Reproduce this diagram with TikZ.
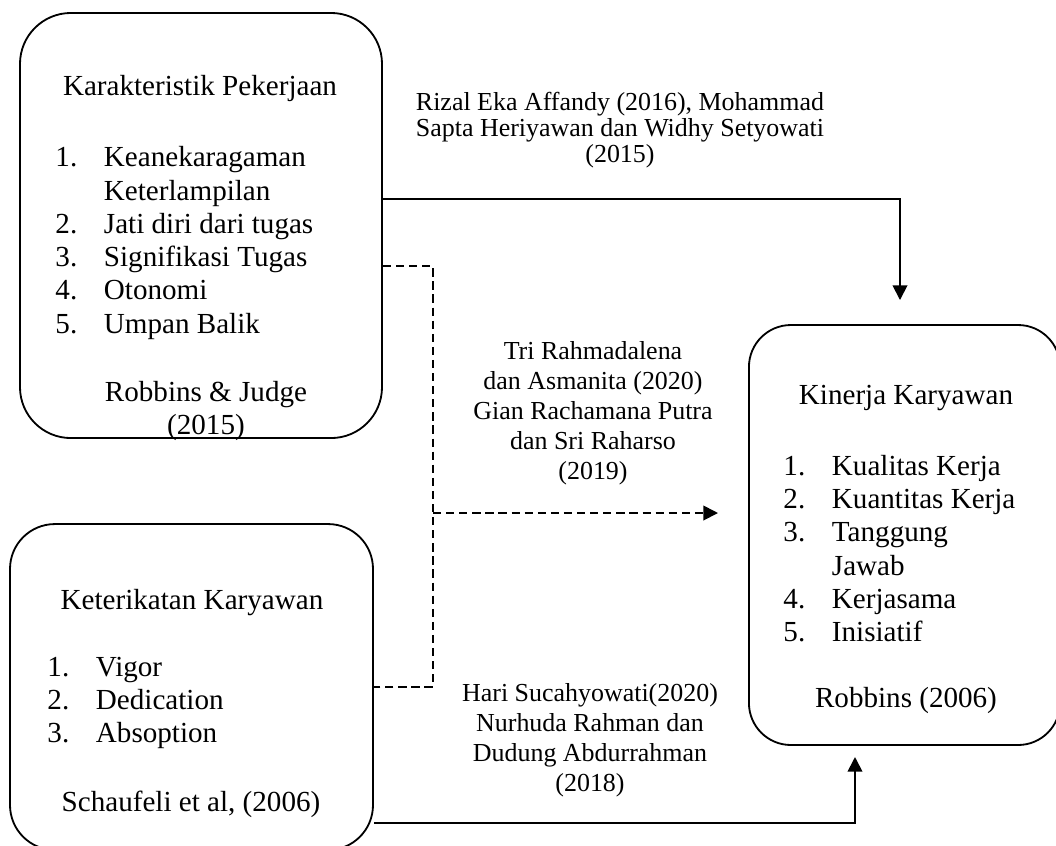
\documentclass[tikz,border=0pt]{standalone}
\usepackage{fontspec}
\setmainfont{Liberation Serif}
\usetikzlibrary{arrows.meta}
\tikzset{
  box/.style={draw, rectangle, line width=0.75pt, inner sep=0pt},
  line/.style={line width=0.75pt},
  dline/.style={line width=0.75pt, dash pattern=on 3.4pt off 2pt},
  tip/.style={-{Triangle[length=6pt,width=6pt]}},
  boxtext/.style={font=\fontsize{12}{13.7}\selectfont, inner sep=0pt, align=center},
  listtext/.style={font=\fontsize{12}{13.7}\selectfont, inner sep=0pt, align=left, anchor=west},
  reftext/.style={font=\fontsize{10.7}{12.4}\selectfont, inner sep=0pt, align=center}
}
\newcommand{\itm}[2]{\makebox[20pt][l]{#1}#2}
\begin{document}
\begin{tikzpicture}[x=0.4124pt, y=-0.4124pt]
\useasboundingbox (0,0) rectangle (1056,845);
\node (A) [box, rounded corners=21pt, minimum width=149.3pt, minimum height=175.3pt] at (201,225.5) {};
\node (B) [box, rounded corners=18.5pt, minimum width=149.7pt, minimum height=134.4pt] at (191.5,687) {};
\node (C) [box, rounded corners=17.3pt, minimum width=128.3pt, minimum height=173.2pt] at (904.5,535) {};

\node (Atitle) [boxtext] at (200,88) {Karakteristik Pekerjaan};
\node (Alist) [listtext] at (55,243) {\itm{1.}{Keanekaragaman}\\ \hspace*{20pt}Keterlampilan\\ \itm{2.}{Jati diri dari tugas}\\ \itm{3.}{Signifikasi Tugas}\\ \itm{4.}{Otonomi}\\ \itm{5.}{Umpan Balik}};
\node (Aref) [boxtext] at (206,411) {Robbins \& Judge\\(2015)};

\node (Btitle) [boxtext] at (192,603) {Keterikatan Karyawan};
\node (Blist) [listtext] at (47,703) {\itm{1.}{Vigor}\\ \itm{2.}{Dedication}\\ \itm{3.}{Absoption}};
\node (Bref) [boxtext] at (191,804) {Schaufeli et al, (2006)};

\node (Ctitle) [boxtext] at (906,398) {Kinerja Karyawan};
\node (Clist) [listtext] at (783,548.5) {\itm{1.}{Kualitas Kerja}\\ \itm{2.}{Kuantitas Kerja}\\ \itm{3.}{Tanggung}\\ \hspace*{20pt}Jawab\\ \itm{4.}{Kerjasama}\\ \itm{5.}{Inisiatif}};
\node (Cref) [boxtext] at (906,700) {Robbins (2006)};

\node (lbltop) [reftext, font=\fontsize{10.7}{10.7}\selectfont] at (620,130) {Rizal Eka Affandy (2016), Mohammad\\Sapta Heriyawan dan Widhy Setyowati\\(2015)};
\node (lblmid) [reftext] at (593,413) {Tri Rahmadalena\\dan Asmanita (2020)\\Gian Rachamana Putra\\dan Sri Raharso\\(2019)};
\node (lblbot) [reftext] at (590,740) {Hari Sucahyowati(2020)\\Nurhuda Rahman dan\\Dudung Abdurrahman\\(2018)};

\coordinate (ctop) at (900,300);
\coordinate (join) at (433,513);
\coordinate (cmid) at (718,513);
\coordinate (cbot) at (855,757);

\draw[line, tip] ([yshift=10.9pt]A.east) -| (ctop);
\draw[dline] ([yshift=-16.7pt]A.east) -| (join) |- (B.east);
\draw[dline, tip] (join) -- (cmid);
\draw[line, tip] ([yshift=-56pt]B.east) -| (cbot);
\end{tikzpicture}
\end{document}
